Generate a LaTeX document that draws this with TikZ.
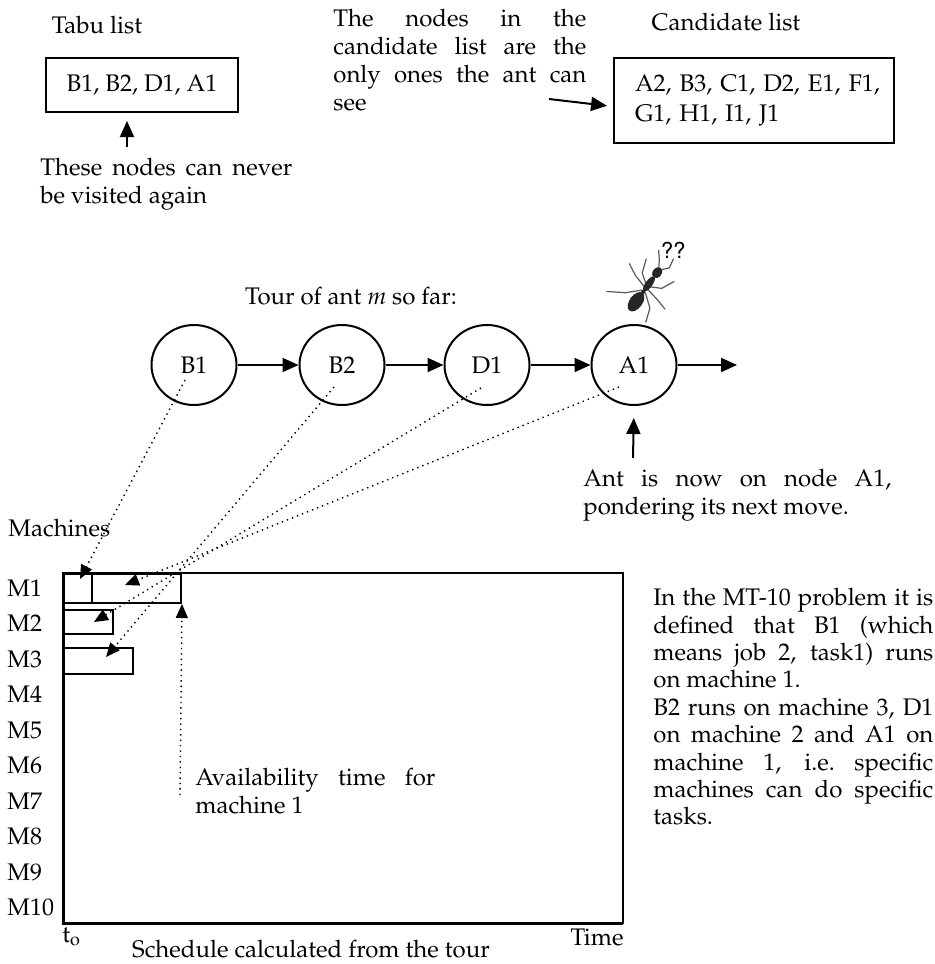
\documentclass[tikz,border=0pt]{standalone}
\usepackage[T1]{fontenc}
\usepackage{mathpazo}
\renewcommand{\sfdefault}{phv}
\usetikzlibrary{arrows.meta,shapes.geometric}

\tikzset{
  txt/.style={font=\fontsize{12}{14}\selectfont, inner sep=0pt},
  para/.style={txt, align=justify, anchor=north west,
    execute at begin node={\tolerance=10000\hbadness=10000\hyphenpenalty=10000}},
  listbox/.style={txt, draw, line width=1pt},
  tour/.style={txt, ellipse, draw, line width=1pt, minimum width=42.5pt, minimum height=40pt},
  job/.style={draw, line width=1pt, inner sep=0pt, anchor=north west},
  link/.style={line width=1pt, -{Triangle[length=8pt,width=7pt]}},
  mapto/.style={dotted, line width=0.7pt, -{Triangle[length=7pt,width=6pt]}},
  antleg/.style={gray!70!black, line width=0.6pt, line join=round},
}

\begin{document}
\begin{tikzpicture}[x=0.5pt,y=-0.5pt]
\useasboundingbox (0,0) rectangle (935,964);

% tabu list
\node[txt] (tabutitle) at (97,25) {Tabu list};
\node[listbox, minimum width=96pt, minimum height=27pt] (tabu) at (142,85) {B1, B2, D1, A1};
\coordinate (tabufoot) at (127,147);
\draw[link, shorten >=4pt] (tabufoot) -- (tabufoot |- tabu.south);
\node[para, text width=126pt] (tabunote) at (40,158) {These nodes can never be visited again};

% candidate list
\node[para, text width=126.5pt] (seenote) at (333,9)
  {The nodes in the\linebreak candidate list are the\linebreak only ones the ant can\linebreak see};
\node[txt] (candtitle) at (726,22) {Candidate list};
\node[listbox, font=\fontsize{12}{15}\selectfont, minimum width=140pt, minimum height=42.5pt,
  text width=119pt, inner xsep=10.5pt, align=left] (cand) at (754,100.5)
  {\mbox{A2, B3, C1, D2, E1, F1,}\\ G1, H1, I1, J1};
\coordinate (seefoot) at (549,99);
\draw[link, shorten >=3pt] (seefoot) -- ([yshift=-3pt]cand.west);

% tour of the ant
\node[txt] (tourtitle) at (351,296) {Tour of ant \textit{m} so far:};
\node[tour] (B1) at (194,365) {B1};
\node[tour] (B2) at (342,365) {B2};
\node[tour] (D1) at (487,365) {D1};
\node[tour] (A1) at (634,365) {A1};
\coordinate (next) at (737,365);
\draw[link] (B1) -- (B2);
\draw[link] (B2) -- (D1);
\draw[link] (D1) -- (A1);
\draw[link] (A1) -- (next);

% the ant on A1
\begin{scope}[shift={(646,288)}, rotate=54]
  \draw[antleg] (3,2) -- (9,13) -- (22,19);
  \draw[antleg] (3,-2) -- (10,-12) -- (24,-17);
  \draw[antleg] (0,2) -- (-3,17) -- (-6,28);
  \draw[antleg] (0,-2) -- (4,-16) -- (10,-28);
  \draw[antleg] (-4,2) -- (-14,15) -- (-28,20);
  \draw[antleg] (-4,-2) -- (-16,-14) -- (-26,-30);
  \draw[antleg] (23,1) -- (30,7) -- (40,5);
  \draw[antleg] (23,-1) -- (31,-6) -- (38,-12);
  \fill[black!85] (-17,0) ellipse [x radius=11, y radius=6.5];
  \fill[black!85] (-5,0) ellipse [x radius=3, y radius=2];
  \fill[black!85] (5,0) ellipse [x radius=9, y radius=3.5];
  \fill[black!85] (19,0) ellipse [x radius=6, y radius=4.5];
\end{scope}
\node[txt, font=\sffamily\fontsize{11}{13}\selectfont] (puzzled) at (673,250) {??};

\coordinate (antfoot) at (633,458);
\draw[link, shorten >=6pt] (antfoot) -- (A1.south);
\node[para, text width=154pt] (antnote) at (583,469)
  {Ant is now on node A1,\linebreak pondering its next move.};

% schedule
\node[txt, anchor=west] (machines) at (8,528) {Machines};
\foreach \m in {1,...,10}
  \node[txt, anchor=west] (m\m) at (7,588+35.5*\m-35.5) {M\m};
\draw[line width=0.8pt] (63,573) rectangle (623,923);
\draw[line width=1.5pt] (63,573) -- (63,923) -- (623,923);
\node[job, minimum width=14pt, minimum height=14.5pt] (b1job) at (63,573) {};
\node[job, minimum width=44.5pt, minimum height=14.5pt] (a1job) at (91,573) {};
\node[job, minimum width=24.5pt, minimum height=12pt] (d1job) at (63,609) {};
\node[job, minimum width=34.5pt, minimum height=13pt] (b2job) at (63,647) {};

\draw[mapto] ([shift={(-9,15)}]B1.center) -- ([shift={(-13,6)}]b1job.north east);
\draw[mapto] ([shift={(-8,22)}]B2.center) -- ([shift={(43,10)}]b2job.north west);
\draw[mapto] ([shift={(-6,23)}]D1.center) -- ([shift={(31,13)}]d1job.north west);
\draw[mapto] ([shift={(-15,22)}]A1.center) -- ([shift={(34,12)}]a1job.north west);

\coordinate (availfoot) at (180,795);
\draw[mapto] (availfoot) -- (a1job.south east);
\node[para, text width=120pt] (availnote) at (195,768) {Availability time for\linebreak machine 1};

\node[txt, anchor=west] (tzero) at (62,937) {t\textsubscript{o}};
\node[txt, anchor=east] (timelabel) at (624,937) {Time};
\node[txt] (schedtitle) at (311,949) {Schedule calculated from the tour};

\node[para, text width=140pt, font=\fontsize{12}{13.7}\selectfont] (mtnote) at (653,588)
  {In the MT-10 problem it is\linebreak defined that B1 (which\linebreak means job 2, task1) runs\linebreak on machine 1.\\
   B2 runs on machine 3, D1\linebreak on machine 2 and A1 on\linebreak machine 1, i.e.\ specific\linebreak machines can do specific\linebreak tasks.};
\end{tikzpicture}
\end{document}
